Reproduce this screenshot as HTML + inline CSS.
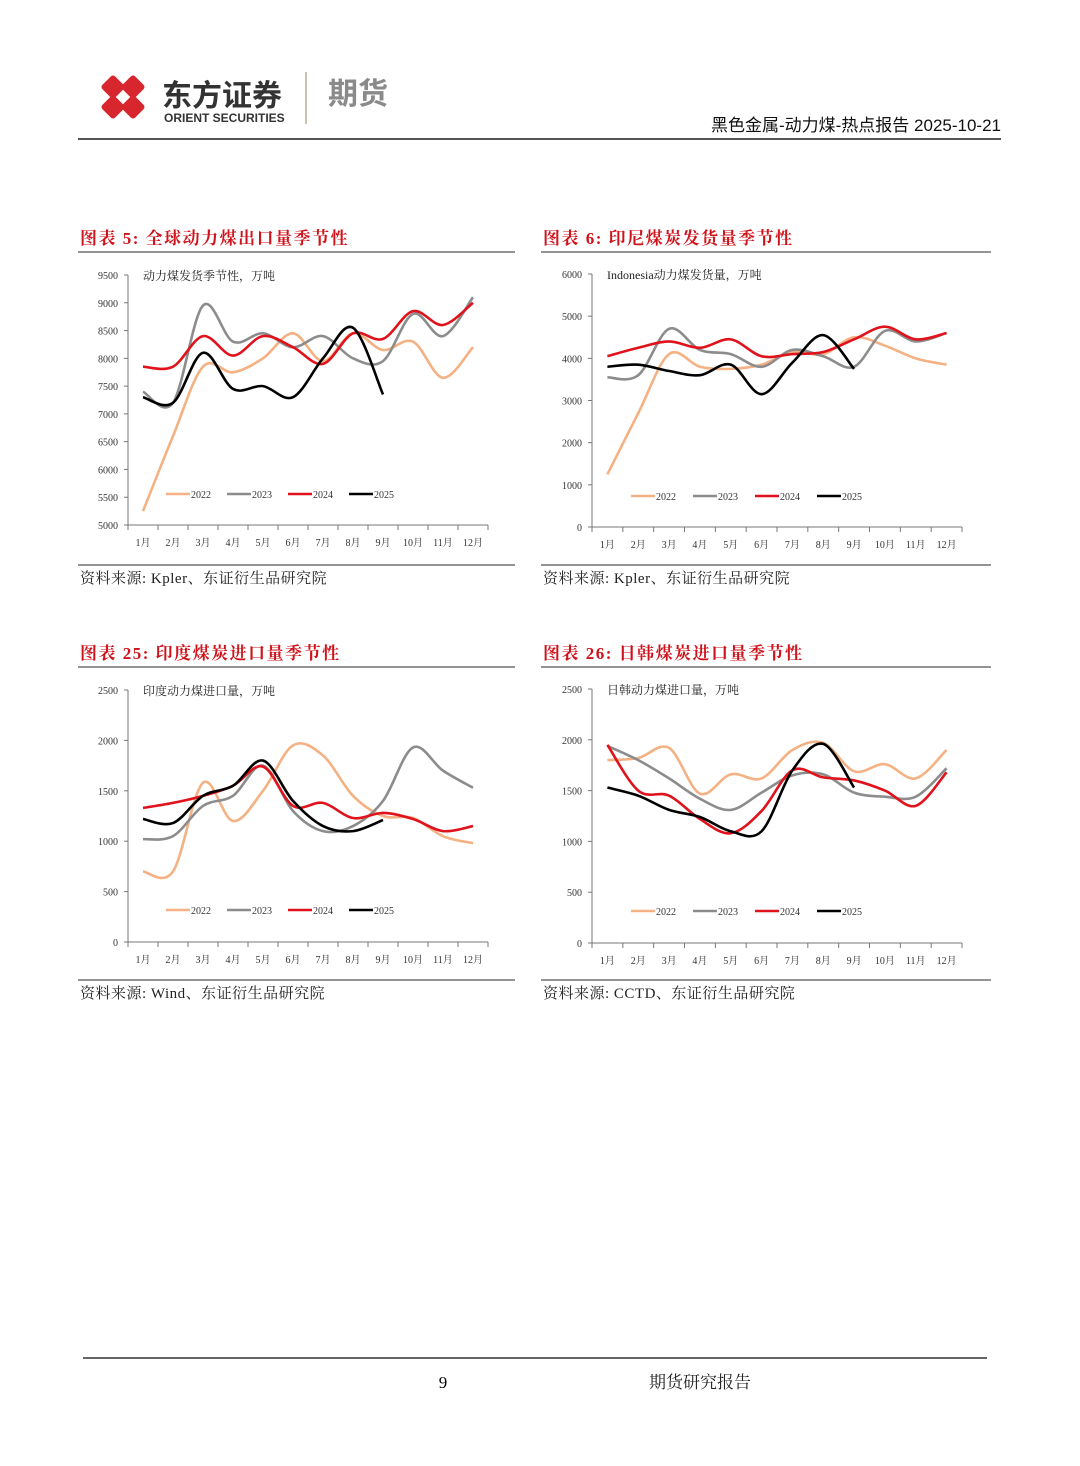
<!DOCTYPE html>
<html><head><meta charset="utf-8"><style>
body{margin:0;background:#fff;}
svg{display:block;}
.t{font-family:"Liberation Serif","Noto Serif CJK SC",serif;}
.s{font-family:"Liberation Sans","Noto Sans CJK SC",sans-serif;}
</style></head><body>
<svg id="pg" width="1080" height="1466" viewBox="0 0 1080 1466" xmlns="http://www.w3.org/2000/svg">
<g>
  <g fill="#d7262d">
    <rect x="104" y="78" width="18" height="18" transform="rotate(45 113 87)" rx="3"/>
    <rect x="124" y="78" width="18" height="18" transform="rotate(45 133 87)" rx="3"/>
    <rect x="104" y="98" width="18" height="18" transform="rotate(45 113 107)" rx="3"/>
    <rect x="124" y="98" width="18" height="18" transform="rotate(45 133 107)" rx="3"/>
  </g>
  <text x="162" y="106" class="s" font-size="30" font-weight="bold" fill="#333">东方证券</text>
  <text x="164" y="122" class="s" font-size="12" font-weight="bold" fill="#333">ORIENT SECURITIES</text>
  <line x1="306" y1="72" x2="306" y2="124" stroke="#c9c2a8" stroke-width="2"/>
  <text x="328" y="104" class="s" font-size="30" font-weight="bold" fill="#8a8a8a">期货</text>
  <text x="1001" y="131" text-anchor="end" class="s" font-size="17" fill="#111">黑色金属-动力煤-热点报告 2025-10-21</text>
  <line x1="78" y1="139" x2="1001" y2="139" stroke="#555" stroke-width="2"/>
</g>
<g id="charts"></g>
<g>
  <line x1="83" y1="1358" x2="987" y2="1358" stroke="#333" stroke-width="1.5"/>
  <text x="443" y="1388" class="t" font-size="17" text-anchor="middle">9</text>
  <text x="700" y="1388" class="t" font-size="17" text-anchor="middle" fill="#222">期货研究报告</text>
</g>
</svg>
<script>
const months = ["1月","2月","3月","4月","5月","6月","7月","8月","9月","10月","11月","12月"];
const seriesNames = ["2022","2023","2024","2025"];
const seriesColors = ["#f4b183","#8c8c8c","#e0121b","#000000"];
// chart 1
const c1Ticks = [5000,5500,6000,6500,7000,7500,8000,8500,9000,9500];
const c1_2022 = [5250,6600,7850,7750,8000,8450,7950,8450,8150,8300,7650,8200];
const c1_2023 = [7400,7200,8950,8300,8450,8200,8400,8000,7950,8800,8400,9100];
const c1_2024 = [7850,7850,8400,8050,8400,8200,7900,8450,8350,8850,8600,9000];
const c1_2025 = [7300,7200,8100,7450,7500,7300,8000,8550,7350];
// chart 2
const c2Ticks = [0,1000,2000,3000,4000,5000,6000];
const c2_2022 = [1250,2700,4100,3800,3750,3850,4150,4100,4500,4300,4000,3850];
const c2_2023 = [3550,3600,4700,4200,4100,3800,4200,4050,3800,4650,4400,4600];
const c2_2024 = [4050,4250,4400,4250,4450,4050,4100,4150,4450,4750,4450,4600];
const c2_2025 = [3800,3850,3700,3600,3850,3150,3900,4550,3750];
// chart 3
const c3Ticks = [0,500,1000,1500,2000,2500];
const c3_2022 = [700,700,1580,1200,1500,1950,1850,1450,1250,1230,1050,980];
const c3_2023 = [1020,1050,1350,1450,1750,1300,1100,1150,1400,1930,1700,1530];
const c3_2024 = [1330,1380,1450,1550,1740,1350,1380,1230,1280,1220,1100,1150];
const c3_2025 = [1220,1180,1450,1550,1800,1400,1150,1100,1210];
// chart 4
const c4Ticks = [0,500,1000,1500,2000,2500];
const c4_2022 = [1800,1820,1920,1470,1660,1620,1900,1970,1690,1760,1620,1900];
const c4_2023 = [1940,1800,1620,1420,1310,1480,1650,1660,1480,1440,1440,1720];
const c4_2024 = [1950,1500,1450,1220,1080,1300,1700,1630,1600,1500,1350,1680];
const c4_2025 = [1530,1450,1310,1240,1100,1100,1700,1960,1530];

const NS="http://www.w3.org/2000/svg";
const root=document.getElementById('charts');
function mk(tag,attrs,parent,text){const e=document.createElementNS(NS,tag);for(const k in attrs)e.setAttribute(k,attrs[k]);if(text!==undefined)e.textContent=text;parent.appendChild(e);return e;}

function drawChart(cfg){
  const g=mk('g',{},root);
  
  
  const tt=mk('text',{x:cfg.px,y:cfg.py+14,class:'t','font-size':17,'font-weight':'bold',fill:'#d0121b','letter-spacing':'1.5'},g,cfg.title);
  
  
  mk('line',{x1:cfg.px-2,y1:cfg.py+22,x2:cfg.px-2+cfg.w,y2:cfg.py+22,stroke:'#555','stroke-width':1.2},g);
  mk('line',{x1:cfg.px-2,y1:cfg.py+335,x2:cfg.px-2+cfg.w,y2:cfg.py+335,stroke:'#555','stroke-width':1.2},g);
  const src=mk('text',{x:cfg.px,y:cfg.py+353,class:'t','font-size':15,fill:'#222','letter-spacing':'0.5'},g,cfg.source);
  
  
  const ymin=cfg.ticks[0], ymax=cfg.ticks[cfg.ticks.length-1];
  const Y=v=>cfg.y0-(v-ymin)/(ymax-ymin)*(cfg.y0-cfg.y1);
  const bw=(cfg.x1-cfg.x0)/12;
  const X=i=>cfg.x0+bw*(i+0.5);
  mk('line',{x1:cfg.x0,y1:cfg.y0,x2:cfg.x0,y2:cfg.y1,stroke:'#777'},g);
  mk('line',{x1:cfg.x0,y1:cfg.y0,x2:cfg.x1,y2:cfg.y0,stroke:'#777'},g);
  cfg.ticks.forEach(t=>{
    mk('line',{x1:cfg.x0-4,y1:Y(t),x2:cfg.x0,y2:Y(t),stroke:'#777'},g);
    const l=mk('text',{x:cfg.x0-10,y:Y(t)+4,'text-anchor':'end',class:'t','font-size':10,fill:'#333'},g,String(t));
    
    
  });
  for(let i=0;i<=12;i++) mk('line',{x1:cfg.x0+bw*i,y1:cfg.y0,x2:cfg.x0+bw*i,y2:cfg.y0+5,stroke:'#777'},g);
  months.forEach((m,i)=>{
    const l=mk('text',{x:X(i),y:cfg.y0+21,'text-anchor':'middle',class:'t','font-size':10,fill:'#333'},g,m);
    
    
  });
  const ut=mk('text',{x:cfg.x0+15,y:cfg.y1+5,class:'t','font-size':12,fill:'#222'},g,cfg.unit);
  
  
  cfg.series.forEach((arr,s)=>{
    const pts=arr.map((v,i)=>[X(i),Y(v)]);
    let d='M'+pts[0][0]+','+pts[0][1];
    for(let i=0;i<pts.length-1;i++){
      const p0=pts[i-1]||pts[i],p1=pts[i],p2=pts[i+1],p3=pts[i+2]||p2;
      const c1=[p1[0]+(p2[0]-p0[0])/6,p1[1]+(p2[1]-p0[1])/6];
      const c2=[p2[0]-(p3[0]-p1[0])/6,p2[1]-(p3[1]-p1[1])/6];
      d+=` C${c1[0]},${c1[1]} ${c2[0]},${c2[1]} ${p2[0]},${p2[1]}`;
    }
    const p=mk('path',{d:d,fill:'none',stroke:seriesColors[s],'stroke-width':2.6},g);
    
    
    const lx=cfg.lx+s*cfg.lstep;
    mk('line',{x1:lx,y1:cfg.ly,x2:lx+24,y2:cfg.ly,stroke:seriesColors[s],'stroke-width':2.6},g);
    const lt=mk('text',{x:lx+25,y:cfg.ly+4,class:'t','font-size':10,fill:'#333'},g,seriesNames[s]);
    
    
  });
}
drawChart({name:'chart-global-export',title:'图表 5:  全球动力煤出口量季节性',source:'资料来源:  Kpler、东证衍生品研究院',unit:'动力煤发货季节性，万吨',px:80,py:230,w:437,x0:128,x1:488,y0:525,y1:275,ticks:c1Ticks,series:[c1_2022,c1_2023,c1_2024,c1_2025],lx:166,lstep:61,ly:494});
drawChart({name:'chart-indonesia-shipment',title:'图表 6:  印尼煤炭发货量季节性',source:'资料来源:  Kpler、东证衍生品研究院',unit:'Indonesia动力煤发货量，万吨',px:543,py:230,w:450,x0:592,x1:962,y0:527,y1:274,ticks:c2Ticks,series:[c2_2022,c2_2023,c2_2024,c2_2025],lx:631,lstep:62,ly:496});
drawChart({name:'chart-india-import',title:'图表 25:  印度煤炭进口量季节性',source:'资料来源:  Wind、东证衍生品研究院',unit:'印度动力煤进口量，万吨',px:80,py:645,w:437,x0:128,x1:488,y0:942,y1:690,ticks:c3Ticks,series:[c3_2022,c3_2023,c3_2024,c3_2025],lx:166,lstep:61,ly:910});
drawChart({name:'chart-japan-korea-import',title:'图表 26:  日韩煤炭进口量季节性',source:'资料来源:  CCTD、东证衍生品研究院',unit:'日韩动力煤进口量，万吨',px:543,py:645,w:450,x0:592,x1:962,y0:943,y1:689,ticks:c4Ticks,series:[c4_2022,c4_2023,c4_2024,c4_2025],lx:631,lstep:62,ly:911});
</script>
</body></html>
